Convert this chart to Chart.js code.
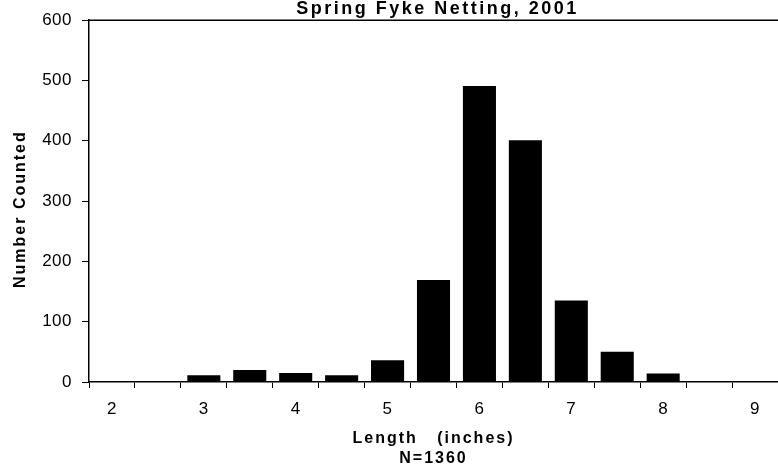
<!DOCTYPE html>
<html>
<head>
<meta charset="utf-8">
<script src="https://cdn.jsdelivr.net/npm/chart.js@4/dist/chart.umd.min.js"></script>
<style>
  html, body { margin: 0; padding: 0; background: #fff; }
  #wrap { width: 778px; height: 466px; }
</style>
</head>
<body>
<div id="wrap"><canvas id="chart" width="778" height="466"></canvas></div>
<script>
// Length classes (inches), half-inch steps
const lengths = ['2', '2.5', '3', '3.5', '4', '4.5', '5', '5.5', '6', '6.5', '7', '7.5', '8', '8.5', '9'];
// Fish counted per class
const counts = [0, 0, 11, 20, 15, 11, 36, 169, 491, 401, 135, 50, 14, 0, 0];
const yTicks = [0, 100, 200, 300, 400, 500, 600];

const chartTitle = 'Spring Fyke Netting, 2001';
const xTitle = 'Length   (inches)';
const xSubTitle = 'N=1360';
const yTitle = 'Number Counted';

const FONT = 'Arial, "Liberation Sans", sans-serif';

// Titles and the top frame line
const textPlugin = {
    id: 'texts',
    beforeDraw(chart) {
        chart.ctx.letterSpacing = '0.5px';
    },
    afterDraw(chart) {
        const ctx = chart.ctx;
        const area = chart.chartArea;
        const cx = (area.left + area.right) / 2;
        ctx.save();
        // top frame
        ctx.strokeStyle = '#000';
        ctx.lineWidth = 1.5;
        ctx.beginPath();
        ctx.moveTo(area.left, area.top);
        ctx.lineTo(area.right, area.top);
        ctx.stroke();

        ctx.fillStyle = '#000';
        ctx.textAlign = 'center';
        ctx.textBaseline = 'alphabetic';
        ctx.letterSpacing = '2.5px';
        ctx.font = 'bold 18px ' + FONT;
        ctx.fillText(chartTitle, cx + 4, 14);

        ctx.letterSpacing = '2px';
        ctx.font = 'bold 16px ' + FONT;
        ctx.fillText(xTitle, cx, 443);
        ctx.fillText(xSubTitle, cx, 463);

        ctx.translate(25, (area.top + area.bottom) / 2 + 8);
        ctx.rotate(-Math.PI / 2);
        ctx.font = 'bold 16px ' + FONT;
        ctx.fillText(yTitle, 0, 0);
        ctx.restore();
    }
};

const ctx = document.getElementById('chart').getContext('2d');
const chart = new Chart(ctx, {
    type: 'bar',
    data: {
        labels: lengths,
        datasets: [{
            data: counts,
            backgroundColor: '#000',
            borderWidth: 0,
            barPercentage: 0.72,
            categoryPercentage: 1
        }]
    },
    options: {
        responsive: false,
        animation: false,
        layout: { padding: { top: 20, left: 0, right: 0, bottom: 0 } },
        plugins: {
            legend: { display: false },
            tooltip: { enabled: false }
        },
        scales: {
            x: {
                offset: true,
                grid: {
                    display: true,
                    offset: true,
                    drawOnChartArea: false,
                    drawTicks: true,
                    tickLength: 6,
                    tickColor: '#000',
                    tickWidth: 1
                },
                border: { display: true, color: '#000', width: 1.5 },
                ticks: {
                    color: '#000',
                    font: { family: FONT, size: 17 },
                    padding: 11,
                    autoSkip: false,
                    maxRotation: 0,
                    callback: function (value) {
                        const l = lengths[value];
                        return Number(l) % 1 === 0 ? l : '';
                    }
                },
                afterFit(scale) { scale.height = 84; }
            },
            y: {
                min: 0,
                max: 600,
                afterBuildTicks(scale) {
                    scale.ticks = yTicks.map(v => ({ value: v }));
                },
                grid: {
                    display: true,
                    drawOnChartArea: false,
                    drawTicks: true,
                    tickLength: 7,
                    tickColor: '#000',
                    tickWidth: 1
                },
                border: { display: true, color: '#000', width: 1.5 },
                ticks: {
                    color: '#000',
                    font: { family: FONT, size: 17 },
                    padding: 10
                },
                afterFit(scale) { scale.width = 89; }
            }
        }
    },
    plugins: [textPlugin]
});
</script>
</body>
</html>
